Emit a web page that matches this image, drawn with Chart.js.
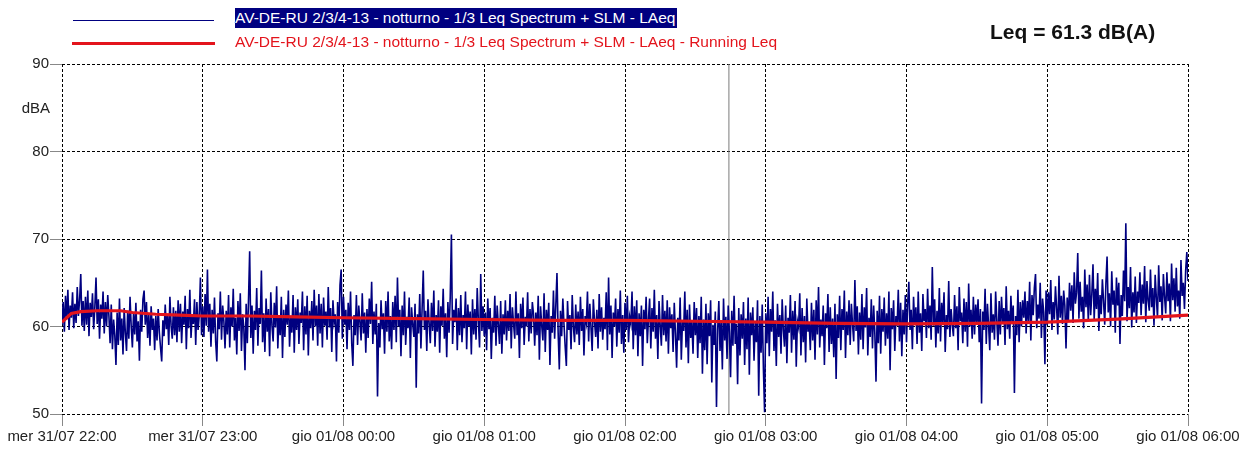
<!DOCTYPE html>
<html>
<head>
<meta charset="utf-8">
<script src="https://cdn.jsdelivr.net/npm/chart.js@4/dist/chart.umd.min.js"></script>
<style>
  body { margin: 0; background: #fff; }
  #wrap { position: relative; width: 1253px; height: 450px; font-family: "Liberation Sans", Arial, sans-serif; }
  #c { position: absolute; left: 0; top: 0; }
  .lbl { position: absolute; white-space: nowrap; }
</style>
</head>
<body>
<div id="wrap">
  <canvas id="c" width="1253" height="450"></canvas>
  <div class="lbl" style="left:73px;top:20px;width:141px;height:1px;background:#000080"></div>
  <div class="lbl" style="left:235px;top:8px;font-size:15.5px;line-height:20px;color:#fff;background:#000080;padding-right:2px">AV-DE-RU 2/3/4-13 - notturno - 1/3 Leq Spectrum + SLM - LAeq</div>
  <div class="lbl" style="left:72px;top:42px;width:143px;height:3px;background:#e3141c"></div>
  <div class="lbl" style="left:235px;top:32px;font-size:15.5px;line-height:20px;color:#e3141c">AV-DE-RU 2/3/4-13 - notturno - 1/3 Leq Spectrum + SLM - LAeq - Running Leq</div>
  <div class="lbl" style="left:990px;top:20px;font-size:21px;line-height:24px;font-weight:bold;color:#111">Leq = 61.3 dB(A)</div>
  <div class="lbl" style="left:0px;width:50px;text-align:right;top:98px;font-size:15px;line-height:20px;color:#222">dBA</div>
</div>
<script>
// x axis: minutes after mer 31/07 22:00
const timeLabels = ['mer 31/07 22:00', 'mer 31/07 23:00', 'gio 01/08 00:00', 'gio 01/08 01:00',
  'gio 01/08 02:00', 'gio 01/08 03:00', 'gio 01/08 04:00', 'gio 01/08 05:00', 'gio 01/08 06:00'];
const stepMin = 0.5;
const markerMin = 284.3;

// LAeq, one value every 30 s, one array per hour
const laeq22 = [
  60.2,62.8,59.4,63.5,60.8,64.2,59.6,62.4,61.0,63.9,59.8,62.6,60.4,64.5,61.2,63.0,66.0,60.1,62.9,59.5,
  63.4,60.2,64.1,58.9,62.7,61.1,63.8,59.7,62.2,65.6,60.3,63.1,58.6,62.5,60.9,64.0,59.2,62.8,60.0,63.6,
  61.2,58.1,62.5,57.4,60.8,59.0,55.6,61.6,57.9,63.2,58.4,60.9,56.8,62.1,59.3,57.2,61.8,58.6,63.4,60.0,
  57.6,61.5,59.1,62.7,58.3,60.6,56.1,61.9,59.4,63.1,64.1,60.2,62.8,58.7,61.4,57.8,62.3,59.6,60.9,57.3,
  61.2,58.4,62.0,59.3,57.6,56.0,60.7,58.9,62.5,59.7,61.3,57.9,63.4,60.1,58.6,62.2,59.0,61.8,58.2,63.0,
  59.4,62.6,58.1,61.7,60.2,63.5,57.4,62.0,59.8,64.2,58.7,61.4,60.3,63.1,57.9,62.8,59.6,61.2,65.6,59.0
];
const laeq23 = [
  62.3,58.8,63.7,60.1,66.5,59.4,62.6,57.7,61.9,59.2,63.3,58.3,56.0,61.5,59.7,64.0,58.5,62.4,60.6,57.5,
  61.8,59.1,63.6,57.6,62.2,60.0,64.3,58.4,61.0,56.8,62.9,59.5,63.8,57.2,61.4,59.9,55.0,62.6,58.1,63.0,
  68.6,58.7,62.4,56.9,61.8,59.6,64.4,57.8,62.1,60.3,66.4,58.2,61.5,57.1,63.2,59.4,62.0,56.6,63.9,60.1,
  58.3,62.7,59.9,64.6,57.5,61.3,59.0,63.4,56.4,61.9,58.8,62.5,60.2,64.1,57.7,61.0,59.3,63.6,57.0,62.2,
  59.6,63.1,58.0,61.6,60.4,64.0,57.3,62.3,59.1,63.5,56.7,61.8,59.8,62.9,58.4,64.2,60.0,62.4,57.8,63.7,
  59.2,62.6,57.6,63.3,60.1,61.7,58.5,64.5,59.9,62.1,57.1,63.0,60.5,61.4,56.0,62.8,59.3,64.7,66.5,58.6
];
const laeq00 = [
  63.4,60.2,61.9,57.4,62.7,59.6,64.0,58.1,55.5,61.3,59.0,63.6,57.9,62.4,60.5,58.4,63.8,59.2,61.6,57.0,
  62.0,58.7,63.2,60.3,65.1,58.0,61.7,59.1,62.6,52.0,60.4,57.6,63.0,59.7,61.5,56.9,62.9,59.4,64.0,58.3,
  61.2,57.4,62.8,59.6,63.5,58.2,65.6,60.0,61.9,56.6,62.4,59.0,64.0,57.9,61.1,59.8,63.3,56.4,62.2,60.3,
  58.8,62.6,53.0,61.4,59.2,63.7,57.5,62.0,66.4,59.6,61.8,57.2,63.1,60.4,58.1,62.7,59.5,64.1,57.7,61.3,
  59.4,63.0,57.0,62.3,60.1,64.3,58.6,61.5,56.5,62.8,59.3,63.4,70.5,58.0,61.9,60.5,63.2,57.3,62.1,59.0,
  63.6,58.2,61.3,59.8,64.0,57.4,62.5,60.0,61.7,56.8,63.1,59.1,62.0,58.5,64.4,60.6,57.6,66.0,59.5,62.3
];
const laeq01 = [
  58.9,61.6,57.3,63.2,59.7,62.1,56.3,61.0,59.3,63.5,57.8,62.4,60.2,58.0,62.9,56.9,61.4,59.1,63.0,58.4,
  61.8,59.5,63.7,57.5,62.2,60.3,58.6,64.0,59.0,61.5,56.4,62.6,59.8,63.3,57.9,61.1,60.0,63.9,58.3,62.0,
  59.2,62.8,61.4,57.8,61.6,59.0,63.5,56.2,62.3,60.1,58.4,63.8,57.1,61.9,59.6,62.7,55.6,61.2,59.3,64.1,
  58.6,62.4,66.1,59.3,55.1,61.8,58.9,63.2,60.2,57.7,55.5,62.9,59.6,61.3,57.4,63.6,60.0,58.2,62.5,59.1,
  61.7,57.9,63.4,59.5,62.0,56.7,61.2,60.4,64.0,58.3,62.6,59.9,57.2,63.1,60.6,58.8,61.9,57.5,63.7,59.4,
  62.2,58.5,61.0,59.7,63.9,57.3,65.6,59.1,62.4,56.4,61.6,60.0,63.2,57.7,62.0,59.3,64.1,58.0,61.3,57.0
];
const laeq02 = [
  62.7,59.6,63.5,58.2,61.1,60.3,64.0,57.4,62.3,59.0,63.0,56.6,61.5,58.9,62.4,55.5,61.9,59.7,63.4,58.1,
  60.8,63.2,57.5,62.1,59.4,64.2,58.6,61.3,56.3,62.9,60.1,57.8,63.6,59.0,61.8,58.3,63.0,56.9,62.2,59.8,
  61.4,57.1,62.7,59.2,55.3,61.0,58.4,63.3,56.2,60.7,59.5,64.0,57.6,61.9,55.8,62.5,58.7,60.6,56.9,62.8,
  59.0,62.1,56.4,61.2,58.1,63.4,54.6,60.8,57.3,62.6,55.7,61.5,58.9,63.0,53.6,60.2,57.9,61.7,50.8,59.6,
  62.9,57.2,60.6,55.1,63.2,58.4,61.1,56.3,62.4,59.3,54.2,61.8,57.8,63.5,58.0,60.3,53.4,62.1,56.7,61.4,
  58.6,62.8,55.6,60.9,57.4,63.3,54.5,61.6,59.0,62.2,56.1,60.4,58.2,63.0,52.1,61.2,57.0,62.5,55.2,50.2
];
const laeq03 = [
  61.5,58.1,63.4,56.6,62.0,59.4,64.0,57.2,60.7,55.5,62.6,58.8,61.3,56.9,63.1,59.6,57.7,62.4,55.8,61.0,
  59.3,63.6,57.0,61.8,58.5,62.9,55.4,60.6,59.9,63.8,56.7,62.1,58.2,61.2,55.9,63.2,59.4,60.5,57.3,62.7,
  58.4,61.9,56.2,63.0,59.1,64.5,57.6,60.8,58.9,62.4,55.6,61.5,59.8,63.7,57.1,62.2,58.0,60.9,56.5,62.6,
  54.0,61.4,58.7,63.5,57.3,62.0,59.6,64.1,56.4,61.7,59.0,63.0,57.9,62.6,60.2,58.3,65.3,59.5,62.3,56.8,
  61.6,58.5,63.7,57.4,62.2,59.9,64.4,56.7,61.0,58.8,63.1,57.5,62.4,59.2,53.7,61.8,58.1,63.5,56.9,62.0,
  59.4,63.3,57.8,61.5,58.6,64.0,55.0,62.1,59.7,63.0,57.2,61.2,60.1,64.2,58.3,62.7,56.6,61.9,59.1,63.6
];
const laeq04 = [
  58.2,62.6,65.1,59.6,61.9,57.4,63.4,60.2,62.2,58.0,64.0,59.3,61.5,57.2,63.7,60.6,62.0,58.7,64.3,59.8,
  62.4,58.5,66.8,60.1,63.1,57.6,61.8,59.2,64.4,58.3,62.7,60.5,63.9,57.1,61.3,59.7,65.2,58.8,62.0,60.2,
  58.9,63.6,59.8,62.3,57.3,64.5,60.6,61.6,58.1,63.2,59.4,62.8,57.7,64.9,60.0,61.9,58.6,63.4,59.1,62.5,
  60.4,63.1,58.2,62.0,51.2,61.7,59.6,64.3,58.0,62.6,60.1,57.3,63.8,59.3,61.4,58.5,64.0,60.7,57.8,62.9,
  59.1,63.4,60.5,62.1,57.9,64.6,59.7,61.8,58.6,63.5,60.3,62.4,52.4,61.2,59.0,64.2,58.2,62.8,60.0,63.0,
  61.0,64.0,59.2,62.9,60.6,65.1,58.4,63.6,61.3,64.4,66.0,59.8,62.5,60.9,65.0,58.7,63.2,61.6,55.7,64.1
];
const laeq05 = [
  60.2,63.9,61.4,65.3,59.6,62.8,60.8,64.6,62.1,59.1,65.8,61.0,63.5,60.3,64.1,62.4,57.5,63.3,60.7,65.0,
  61.8,64.7,60.4,66.2,62.6,63.9,68.4,60.9,65.1,61.7,63.4,59.8,66.5,62.2,64.8,60.6,65.9,61.3,63.7,67.1,
  60.8,64.3,62.0,66.1,59.5,63.6,61.4,65.4,62.9,60.2,64.9,68.0,61.6,63.8,60.0,66.3,62.5,64.1,59.3,65.6,
  62.4,65.0,58.0,63.6,61.2,66.4,62.9,71.8,60.6,64.5,62.1,66.8,59.9,63.9,61.6,65.7,60.4,64.0,62.7,66.2,
  61.3,64.8,62.6,66.9,60.5,65.2,63.0,61.8,66.5,62.2,64.4,60.1,65.9,63.3,61.0,67.0,62.8,64.6,60.7,66.0,
  63.4,61.5,66.2,62.9,64.9,60.6,67.2,63.0,65.5,61.7,66.7,62.3,64.1,60.9,67.6,63.5,65.0,62.0,66.4,68.5
];
const laeqLast = [65.2];

// running Leq
const runMin = [0, 2, 4, 8, 15, 25, 30, 40, 50, 60, 80, 100, 120, 150, 180, 210, 240, 270, 300, 330, 360, 390, 420, 450, 480];
const runLeq = [60.5, 61.0, 61.5, 61.7, 61.8, 61.8, 61.6, 61.4, 61.3, 61.2, 61.2, 61.1, 61.0, 60.9, 60.8, 60.7, 60.7, 60.6, 60.5, 60.35, 60.3, 60.35, 60.5, 60.85, 61.3];

const laeq = [].concat(laeq22, laeq23, laeq00, laeq01, laeq02, laeq03, laeq04, laeq05, laeqLast);
const FONT = '"Liberation Sans", Arial, sans-serif';

new Chart(document.getElementById('c'), {
  type: 'line',
  data: {
    datasets: [
      {
        data: runMin.map((m, i) => ({ x: m, y: runLeq[i] })),
        borderColor: '#e3141c', borderWidth: 3.2, order: 0
      },
      {
        data: laeq.map((v, i) => ({ x: i * stepMin, y: v })),
        borderColor: '#000080', borderWidth: 1.6, order: 1
      },
      {
        data: [{ x: markerMin, y: 50 }, { x: markerMin, y: 90 }],
        borderColor: '#7a7a7a', borderWidth: 1, order: 2
      }
    ]
  },
  options: {
    responsive: false,
    animation: false,
    layout: { padding: { top: 64, right: 65, left: 0, bottom: 0 } },
    elements: { point: { radius: 0 }, line: { tension: 0 } },
    plugins: { legend: { display: false }, tooltip: { enabled: false } },
    scales: {
      x: {
        type: 'linear', min: 0, max: 480,
        afterFit: s => { s.height = 36; },
        ticks: {
          stepSize: 60, padding: 2, maxRotation: 0, autoSkip: false,
          font: { family: FONT, size: 15 }, color: '#222',
          callback: v => timeLabels[v / 60]
        },
        grid: { color: '#000', tickColor: '#888', tickLength: 12, tickWidth: 1 },
        border: { display: false, dash: [3, 2] }
      },
      y: {
        min: 50, max: 90,
        afterFit: s => { s.width = 62; },
        ticks: { stepSize: 10, padding: 1, font: { family: FONT, size: 15 }, color: '#222' },
        grid: { color: '#000', tickColor: '#888', tickLength: 12, tickWidth: 1 },
        border: { display: false, dash: [3, 2] }
      }
    }
  }
});
</script>
</body>
</html>
